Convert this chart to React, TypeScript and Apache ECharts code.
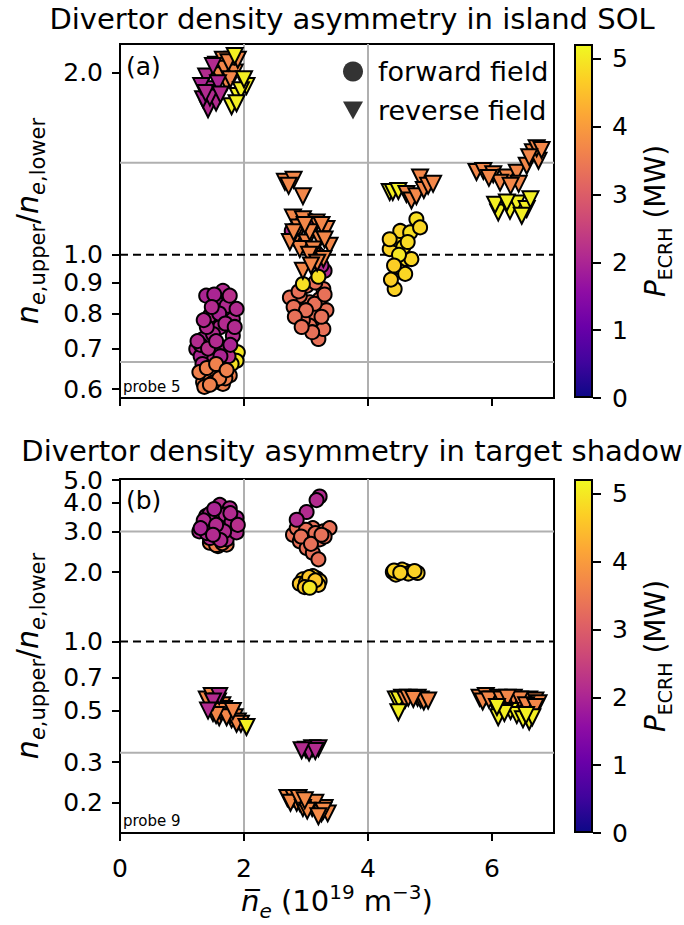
import React, { useEffect, useRef } from "react";
import * as echarts from "echarts";

const FONT = "DejaVu Sans";

// ---------- axis ticks / reference values ----------
const xTickValues = [0, 2, 4, 6];
const islandTickValues = [0.6, 0.7, 0.8, 0.9, 1.0, 2.0];
const shadowTickValues = [0.2, 0.3, 0.5, 0.7, 1.0, 2.0, 3.0, 4.0, 5.0];
const shadowTopLabel = [5.0];
const powerTickValues = [0, 1, 2, 3, 4, 5];
const islandGridValues = [1.42, 0.665];
const shadowGridValues = [3.0, 0.33];
const unityValue = 1.0;
const powerMax = 5.22;
const plasma = [
  "#0d0887", "#41049d", "#6a00a8", "#8f0da4", "#b12a90", "#cc4778",
  "#e16462", "#f2844b", "#fca636", "#fcce25", "#f0f921",
];

// ---------- (a) island SOL, forward field (circles) ----------
const islandFwdNe = [
  1.90, 1.88, 1.80,
  1.66, 1.55, 1.82, 1.45, 1.61, 1.34, 1.82, 1.23, 1.45, 1.66, 1.72, 1.88, 1.39, 1.77, 1.50, 1.30, 1.58, 1.75, 1.40, 1.60, 1.30,
  1.35, 1.52, 1.70, 1.25, 1.42, 1.62, 1.85, 1.48, 1.78, 1.33, 1.55,
  1.61, 1.34, 1.66, 1.45, 1.77, 1.28, 1.50, 1.40, 1.55, 1.70, 1.36, 1.60, 1.72, 1.45,
  3.06, 3.30, 2.77, 2.90, 3.20, 3.25,
  3.06, 2.85, 3.22, 3.11, 3.06, 3.20, 3.28, 2.90, 2.74, 3.28, 3.33, 3.01, 2.95, 2.80, 3.15,
  2.88, 3.14, 3.25, 3.00, 2.82, 3.10, 3.30, 2.93,
  2.95, 3.20,
  4.43, 4.52, 4.60, 4.37, 4.62, 4.35, 4.46, 4.52, 4.68, 4.78, 4.84, 4.57, 4.35, 4.70, 4.50, 4.42, 4.64,
];
const islandFwdRatio = [
  0.690, 0.668, 0.660,
  0.872, 0.835, 0.783, 0.793, 0.759, 0.726, 0.735, 0.699, 0.673, 0.699, 0.824, 0.814, 0.856, 0.856, 0.740, 0.680, 0.705, 0.680, 0.760, 0.800, 0.710,
  0.780, 0.860, 0.770, 0.720, 0.700, 0.680, 0.760, 0.820, 0.710, 0.660, 0.720,
  0.648, 0.616, 0.612, 0.632, 0.632, 0.640, 0.615, 0.650, 0.660, 0.625, 0.605, 0.625, 0.645, 0.610,
  1.138, 0.941, 1.095, 1.050, 1.000, 0.960,
  0.835, 0.814, 0.845, 0.793, 0.764, 0.726, 0.754, 0.856, 0.850, 0.878, 0.810, 0.889, 0.780, 0.820, 0.900,
  0.870, 0.830, 0.790, 0.810, 0.790, 0.745, 0.860, 0.760,
  0.895, 0.920,
  0.878, 0.953, 0.930, 0.910, 0.984, 1.022, 1.061, 1.095, 1.089, 1.145, 1.110, 1.030, 1.061, 0.984, 1.000, 0.960, 1.050,
];
const islandFwdP = [
  5.0, 5.0, 4.9,
  2.1, 2.0, 2.1, 2.2, 2.1, 2.0, 2.1, 2.1, 2.2, 2.0, 2.1, 2.1, 2.0, 2.2, 2.1, 2.0, 2.1, 2.2, 2.1, 2.0, 2.1,
  2.1, 2.0, 2.1, 2.1, 2.2, 2.0, 2.1, 2.1, 2.0, 2.1, 2.1,
  3.6, 3.6, 3.6, 3.6, 3.6, 3.6, 3.6, 3.6, 3.6, 3.6, 3.6, 3.6, 3.6, 3.6,
  2.1, 2.1, 2.1, 2.1, 2.1, 2.1,
  3.35, 3.35, 3.35, 3.35, 3.35, 3.35, 3.35, 3.35, 3.35, 3.35, 3.35, 3.35, 3.35, 3.35, 3.35,
  3.35, 3.35, 3.35, 3.35, 3.35, 3.35, 3.35, 3.35,
  4.9, 4.9,
  4.75, 4.9, 4.8, 4.7, 4.85, 4.75, 4.8, 4.75, 4.9, 4.9, 4.8, 4.9, 4.75, 4.8, 5.0, 4.7, 4.85,
];

// ---------- (a) island SOL, reverse field (triangles) ----------
const islandRevNe = [
  1.55, 1.82, 1.66, 1.85, 1.72, 1.90, 1.60, 1.68, 1.78, 1.75,
  1.39, 1.42, 1.34, 1.47, 1.50, 1.31, 1.55, 1.45, 1.58, 1.38, 1.62,
  2.04, 1.80, 1.90, 1.95, 1.85, 2.00, 1.88,
  2.66, 2.80, 2.95, 2.72, 2.79, 2.95, 3.17, 3.33, 2.85, 3.01, 3.22, 3.38, 2.90, 3.11, 2.95, 3.28, 2.74, 3.06,
  2.88, 3.12, 3.25, 3.05, 2.80, 3.18, 2.98, 3.30, 3.08,
  4.35, 4.40, 4.49, 4.62, 4.70, 4.78, 4.84, 4.90, 4.97, 5.05,
  5.75, 5.86, 6.02, 6.24, 6.40, 6.56, 6.66, 6.75, 6.13, 6.43, 6.72, 6.80, 6.60, 5.95, 6.30,
  6.10, 6.05, 6.29, 6.40, 6.56, 6.62, 6.24, 6.48,
];
const islandRevRatio = [
  2.06, 2.10, 2.10, 2.00, 1.926, 2.10, 1.98, 2.03, 1.95, 2.08,
  1.97, 1.74, 1.807, 1.877, 2.05, 1.90, 1.785, 1.82, 1.92, 1.85, 1.84,
  1.90, 1.76, 1.83, 1.87, 2.13, 1.95, 1.78,
  1.32, 1.33, 1.25, 1.30, 1.153, 1.145, 1.131, 1.103, 1.075, 1.048, 1.061, 1.035, 1.022, 0.996, 0.941, 0.984, 1.050, 1.090,
  1.11, 1.02, 1.12, 1.00, 1.09, 0.97, 1.12, 1.06, 0.96,
  1.27, 1.27, 1.275, 1.26, 1.23, 1.25, 1.342, 1.28, 1.30, 1.31,
  1.37, 1.376, 1.359, 1.342, 1.367, 1.403, 1.477, 1.43, 1.316, 1.31, 1.50, 1.49, 1.45, 1.34, 1.30,
  1.175, 1.21, 1.182, 1.215, 1.19, 1.235, 1.22, 1.16,
];
const islandRevP = [
  3.7, 3.7, 3.7, 3.7, 3.7, 3.7, 3.7, 3.7, 3.7, 3.7,
  2.1, 2.1, 2.0, 2.1, 2.1, 2.0, 2.1, 2.1, 2.0, 2.1, 2.1,
  5.1, 5.1, 5.1, 5.1, 5.1, 5.1, 5.1,
  3.7, 3.7, 3.7, 3.7, 3.7, 3.7, 3.7, 3.7, 3.7, 3.7, 3.7, 3.7, 3.7, 3.7, 3.7, 3.7, 3.7, 3.7,
  3.7, 3.7, 3.7, 3.7, 3.7, 3.7, 3.7, 3.7, 3.7,
  5.1, 5.1, 5.1, 3.7, 3.7, 3.7, 3.7, 3.7, 3.7, 3.7,
  3.7, 3.7, 3.7, 3.7, 3.7, 3.7, 3.7, 3.7, 3.7, 3.7, 3.7, 3.7, 3.7, 3.7, 3.7,
  5.1, 5.1, 5.1, 5.1, 5.1, 5.1, 5.1, 5.1,
];

// ---------- (b) target shadow, forward field (circles) ----------
const shadowFwdNe = [
  1.58, 1.72, 1.45, 1.55, 1.65,
  1.61, 1.77, 1.88, 1.34, 1.28, 1.50, 1.66, 1.82, 1.61, 1.45, 1.72, 1.88, 1.39, 1.56, 1.70, 1.80, 1.45,
  1.35, 1.52, 1.68, 1.40, 1.78, 1.90, 1.55, 1.30, 1.62, 1.50,
  2.79, 2.95, 3.11, 3.28, 2.90, 3.06, 3.22, 3.01, 3.11, 3.20, 3.38, 2.85, 3.00, 3.15, 3.30, 2.92, 3.08, 3.25,
  3.22, 3.17, 3.01, 2.85,
  2.95, 3.17, 3.22, 2.90, 3.11, 3.00, 3.10, 3.20, 3.05, 2.98, 3.15, 3.06,
  4.40, 4.60, 4.70, 4.80, 4.45, 4.55, 4.65, 4.75, 4.42, 4.52,
];
const shadowFwdRatio = [
  2.59, 2.63, 2.68, 2.62, 2.67,
  3.91, 3.78, 3.43, 3.21, 3.00, 3.10, 3.21, 3.10, 2.90, 2.81, 2.77, 2.97, 3.50, 3.40, 3.55, 3.30, 3.58,
  3.35, 3.75, 3.00, 2.95, 3.60, 3.20, 3.20, 3.10, 2.75, 2.90,
  2.90, 3.00, 3.10, 3.00, 2.72, 2.81, 2.77, 2.54, 2.42, 2.27, 3.10, 3.10, 3.05, 2.95, 2.85, 2.85, 2.65, 2.90,
  4.25, 4.10, 3.64, 3.37,
  1.86, 1.88, 1.83, 1.78, 1.92, 1.80, 1.78, 1.76, 1.90, 1.72, 1.84, 1.71,
  2.00, 2.02, 2.00, 1.98, 1.95, 2.05, 1.97, 2.02, 2.03, 1.985,
];
const shadowFwdP = [
  3.6, 3.6, 3.6, 3.6, 3.6,
  2.1, 2.1, 2.0, 2.1, 2.1, 2.2, 2.1, 2.0, 2.1, 2.1, 2.2, 2.1, 2.0, 2.1, 2.1, 2.1, 2.1,
  2.1, 2.0, 2.1, 2.1, 2.1, 2.2, 2.1, 2.0, 2.1, 2.1,
  3.35, 3.35, 3.35, 3.35, 3.35, 3.35, 3.35, 3.35, 3.35, 3.35, 3.35, 3.35, 3.35, 3.35, 3.35, 3.35, 3.35, 3.35,
  2.1, 2.1, 2.1, 2.1,
  4.6, 4.6, 4.6, 4.6, 4.6, 4.6, 4.6, 4.6, 4.6, 4.6, 4.6, 5.0,
  4.75, 4.75, 4.75, 4.75, 4.75, 4.75, 4.75, 4.75, 4.75, 4.75,
];

// ---------- (b) target shadow, reverse field (triangles) ----------
const shadowRevNe = [
  1.45, 1.55, 1.65, 1.70, 1.50, 1.75, 1.80, 1.85, 1.90, 1.60, 1.95,
  1.40, 1.48, 1.58, 1.68, 1.78, 1.88, 1.62, 1.72, 1.55, 1.82,
  2.04,
  1.60, 1.50, 1.42,
  3.00, 3.10, 3.20, 3.05, 3.15, 2.93,
  2.70, 2.80, 2.90, 3.05, 3.10, 3.20, 3.30, 3.35, 2.85, 3.15, 3.25, 2.75, 2.95, 3.28, 2.88, 3.02, 3.20, 2.98,
  4.45, 4.55, 4.50, 4.60, 4.65, 4.80, 4.85, 4.90, 4.97, 4.73, 4.49,
  5.80, 5.90, 6.00, 6.10, 6.20, 6.30, 6.40, 6.50, 6.60, 6.70, 6.75, 5.85, 6.35, 5.95, 6.15, 6.45, 6.55, 6.25, 6.70,
  6.30, 6.40, 6.50, 6.60, 6.65, 6.10, 6.20, 6.55, 6.08,
];
const shadowRevRatio = [
  0.53, 0.52, 0.53, 0.50, 0.49, 0.49, 0.46, 0.47, 0.45, 0.47, 0.44,
  0.56, 0.58, 0.55, 0.51, 0.48, 0.44, 0.50, 0.47, 0.48, 0.50,
  0.426,
  0.58, 0.55, 0.502,
  0.340, 0.345, 0.345, 0.330, 0.335, 0.338,
  0.210, 0.210, 0.200, 0.195, 0.190, 0.185, 0.190, 0.180, 0.200, 0.200, 0.180, 0.200, 0.190, 0.185, 0.210, 0.185, 0.175, 0.205,
  0.56, 0.57, 0.56, 0.56, 0.57, 0.57, 0.56, 0.55, 0.555, 0.564, 0.494,
  0.57, 0.58, 0.56, 0.57, 0.56, 0.55, 0.54, 0.55, 0.56, 0.555, 0.54, 0.55, 0.57, 0.56, 0.56, 0.56, 0.53, 0.57, 0.52,
  0.50, 0.48, 0.46, 0.45, 0.47, 0.47, 0.49, 0.48, 0.52,
];
const shadowRevP = [
  3.7, 3.7, 3.7, 3.7, 3.7, 3.7, 3.7, 3.7, 3.7, 3.7, 3.7,
  3.7, 3.7, 3.7, 3.7, 3.7, 3.7, 3.7, 3.7, 3.7, 3.7,
  5.1,
  2.1, 2.1, 2.1,
  2.1, 2.1, 2.1, 2.1, 2.1, 2.1,
  3.75, 3.75, 3.75, 3.75, 3.75, 3.75, 3.75, 3.75, 3.75, 3.75, 3.75, 3.75, 3.75, 3.75, 3.75, 3.75, 3.75, 3.75,
  5.1, 5.1, 5.1, 3.7, 3.7, 3.7, 3.7, 3.7, 3.7, 3.7, 5.1,
  3.7, 3.7, 3.7, 3.7, 3.7, 3.7, 3.7, 3.7, 3.7, 3.7, 3.7, 3.7, 3.7, 3.7, 3.7, 3.7, 3.7, 3.7, 3.7,
  5.1, 5.1, 5.1, 5.1, 5.1, 5.1, 5.1, 5.1, 5.1,
];

// ---------- option building ----------
const zip3 = (a: number[], b: number[], c: number[]) => a.map((v, i) => [v, b[i], c[i]]);

function makeRich(main: number, sub: number) {
  const lh = Math.round(main * 1.35);
  return {
    i: { fontFamily: FONT, fontStyle: "italic", fontSize: main, lineHeight: lh, color: "#000" },
    t: { fontFamily: FONT, fontSize: main, lineHeight: lh, color: "#000" },
    si: { fontFamily: FONT, fontStyle: "italic", fontSize: sub, lineHeight: sub, verticalAlign: "bottom", color: "#000" },
    s: { fontFamily: FONT, fontSize: sub, lineHeight: sub, verticalAlign: "bottom", color: "#000" },
    sup: { fontFamily: FONT, fontSize: sub, lineHeight: sub, verticalAlign: "top", color: "#000" },
  };
}

const blackLine = { color: "#000", width: 2 };

function tick(values: number[]) {
  return { show: true, inside: false, length: 8, lineStyle: { color: "#000", width: 2 }, customValues: values };
}

function xAxisFor(g: number, showLabels: boolean) {
  return {
    type: "value",
    gridIndex: g,
    min: 0,
    max: 7,
    interval: 2,
    axisLine: { show: true, onZero: false, lineStyle: blackLine },
    axisTick: tick(xTickValues),
    axisLabel: {
      show: showLabels,
      customValues: xTickValues,
      showMinLabel: true,
      showMaxLabel: true,
      fontFamily: FONT,
      fontSize: 25,
      color: "#000",
      margin: 23,
    },
    splitLine: { show: true, showMinLine: false, showMaxLine: false, lineStyle: { color: "#b0b0b0", width: 2 } },
    name: showLabels ? "{i|n\u0305}{si|e}{t| (10}{sup|19}{t| m}{sup|\u22123}{t|)}" : "",
    nameLocation: "middle",
    nameGap: 48,
    nameTextStyle: { fontFamily: FONT, fontSize: 29, color: "#000", rich: makeRich(29, 20) },
  };
}

const yLabelBase = {
  formatter: (v: number) => Number(v).toFixed(1),
  fontFamily: FONT,
  fontSize: 25,
  color: "#000",
  margin: 17,
};

function yAxisFor(g: number, min: number, max: number, ticks: number[], labels: number[]) {
  return {
    type: "log",
    gridIndex: g,
    min,
    max,
    axisLine: { show: true, onZero: false, lineStyle: blackLine },
    axisTick: tick(ticks),
    axisLabel: { ...yLabelBase, customValues: labels, showMinLabel: true, showMaxLabel: true },
    splitLine: { show: false },
    minorTick: { show: false },
    name: "{i|n}{si|e}{s|,upper}{t|/}{i|n}{si|e}{s|,lower}",
    nameLocation: "middle",
    nameRotate: 90,
    nameGap: 72,
    nameTextStyle: { fontFamily: FONT, fontSize: 30, color: "#000", rich: makeRich(30, 21) },
  };
}

// label-only companion axis (same scale) so that the top label is not dropped by overlap logic
function yLabelAxis(g: number, min: number, max: number, labels: number[]) {
  return {
    type: "log",
    gridIndex: g,
    position: "left",
    min,
    max,
    axisLine: { show: false },
    axisTick: { show: false },
    axisLabel: { ...yLabelBase, customValues: labels, showMinLabel: true, showMaxLabel: true },
    splitLine: { show: false },
    minorTick: { show: false },
  };
}

function colorbarYAxis(g: number) {
  return {
    type: "value",
    gridIndex: g,
    position: "right",
    min: 0,
    max: powerMax,
    axisLine: { show: false },
    axisTick: tick(powerTickValues),
    axisLabel: {
      customValues: powerTickValues,
      showMinLabel: true,
      showMaxLabel: true,
      fontFamily: FONT,
      fontSize: 25,
      color: "#000",
      margin: 19,
    },
    splitLine: { show: false },
    name: "{i|P}{s|ECRH}{t| (MW)}",
    nameLocation: "middle",
    nameRotate: 90,
    nameGap: 43,
    nameTextStyle: { fontFamily: FONT, fontSize: 28, color: "#000", rich: makeRich(28, 19) },
  };
}

function hLine(g: number, value: number, dashed: boolean) {
  return {
    type: "line",
    xAxisIndex: g,
    yAxisIndex: g,
    data: [[0, value], [7, value]],
    symbol: "none",
    silent: true,
    z: 1,
    lineStyle: dashed
      ? { color: "#000", width: 2, type: [8, 5] }
      : { color: "#b0b0b0", width: 2 },
  };
}

function scatter(g: number, data: number[][], triangle: boolean) {
  return {
    type: "scatter",
    xAxisIndex: g,
    yAxisIndex: g,
    data,
    symbol: triangle ? "triangle" : "circle",
    symbolRotate: triangle ? 180 : 0,
    symbolSize: triangle ? 16 : 14,
    silent: true,
    z: 3,
    itemStyle: { borderColor: "#000", borderWidth: 2, opacity: 1 },
  };
}

function buildOption() {
  const series: any[] = [];
  islandGridValues.forEach((v) => series.push(hLine(0, v, false)));
  series.push(hLine(0, unityValue, true));
  shadowGridValues.forEach((v) => series.push(hLine(1, v, false)));
  series.push(hLine(1, unityValue, true));

  const scatterStart = series.length;
  series.push(scatter(0, zip3(islandFwdNe, islandFwdRatio, islandFwdP), false));
  series.push(scatter(0, zip3(islandRevNe, islandRevRatio, islandRevP), true));
  series.push(scatter(1, zip3(shadowFwdNe, shadowFwdRatio, shadowFwdP), false));
  series.push(scatter(1, zip3(shadowRevNe, shadowRevRatio, shadowRevP), true));
  const scatterIdx = [scatterStart, scatterStart + 1, scatterStart + 2, scatterStart + 3];

  series.push({
    type: "scatter", name: "forward field", xAxisIndex: 0, yAxisIndex: 0, data: [],
    symbol: "circle", itemStyle: { color: "#000" },
  });
  series.push({
    type: "scatter", name: "reverse field", xAxisIndex: 0, yAxisIndex: 0, data: [],
    symbol: "triangle", itemStyle: { color: "#000" },
  });

  const gradStops = plasma.map((c, i) => ({ offset: i / (plasma.length - 1), color: c }));
  [2, 3].forEach((g) => {
    series.push({
      type: "bar",
      xAxisIndex: g,
      yAxisIndex: g,
      data: [powerMax],
      barWidth: "100%",
      silent: true,
      itemStyle: {
        color: new echarts.graphic.LinearGradient(0, 1, 0, 0, gradStops),
        borderColor: "#000",
        borderWidth: 2,
      },
    });
  });

  const panelGrid = (top: number) => ({
    left: 120, top, width: 434, height: 354,
    show: true, borderColor: "#000", borderWidth: 2, backgroundColor: "transparent",
  });
  const cbGrid = (top: number) => ({ left: 574, top, width: 19, height: 354 });

  const titleStyle = (text: string) => ({
    text,
    font: `29px "${FONT}"`, fill: "#000",
    align: "center", verticalAlign: "middle", textAlign: "center", textVerticalAlign: "middle",
  });
  const plainText = (text: string, size: number) => ({
    text, font: `${size}px "${FONT}"`, fill: "#000", verticalAlign: "middle", textVerticalAlign: "middle",
  });

  const shadowLabels = shadowTickValues.filter((v) => !shadowTopLabel.includes(v));

  return {
    animation: false,
    backgroundColor: "#fff",
    textStyle: { fontFamily: FONT },
    grid: [panelGrid(44), panelGrid(479), cbGrid(44), cbGrid(479)],
    xAxis: [
      xAxisFor(0, false),
      xAxisFor(1, true),
      { type: "category", gridIndex: 2, data: ["P"], show: false },
      { type: "category", gridIndex: 3, data: ["P"], show: false },
    ],
    yAxis: [
      yAxisFor(0, 0.58, 2.23, islandTickValues, islandTickValues),
      yAxisFor(1, 0.148, 5.06, shadowTickValues, shadowLabels),
      colorbarYAxis(2),
      colorbarYAxis(3),
      yLabelAxis(1, 0.148, 5.06, shadowTopLabel),
    ],
    visualMap: {
      type: "continuous",
      show: false,
      min: 0,
      max: powerMax,
      dimension: 2,
      seriesIndex: scatterIdx,
      inRange: { color: plasma },
    },
    legend: {
      orient: "vertical",
      left: 338,
      top: 53,
      itemWidth: 20,
      itemHeight: 20,
      itemGap: 12,
      selectedMode: false,
      data: [
        { name: "forward field", icon: "circle" },
        { name: "reverse field", icon: "path://M0,0L20,0L10,18Z" },
      ],
      textStyle: { fontFamily: FONT, fontSize: 27, color: "#000", padding: [0, 0, 0, 10] },
    },
    graphic: [
      { type: "text", x: 352, y: 19, silent: true, style: titleStyle("Divertor density asymmetry in island SOL") },
      { type: "text", x: 352, y: 451, silent: true, style: titleStyle("Divertor density asymmetry in target shadow") },
      { type: "text", x: 126, y: 66, silent: true, style: plainText("(a)", 25) },
      { type: "text", x: 126, y: 500, silent: true, style: plainText("(b)", 25) },
      { type: "text", x: 123, y: 387, silent: true, style: plainText("probe 5", 15) },
      { type: "text", x: 123, y: 821, silent: true, style: plainText("probe 9", 15) },
    ],
    series,
  };
}

export default function App() {
  const ref = useRef<HTMLDivElement>(null);
  useEffect(() => {
    if (!ref.current) return;
    const chart = echarts.init(ref.current, null, { renderer: "svg" });
    chart.setOption(buildOption() as any);
    return () => chart.dispose();
  }, []);
  return (
    <div
      ref={ref}
      style={{ position: "absolute", left: 0, top: 0, width: 684, height: 925, background: "#fff" }}
    />
  );
}
